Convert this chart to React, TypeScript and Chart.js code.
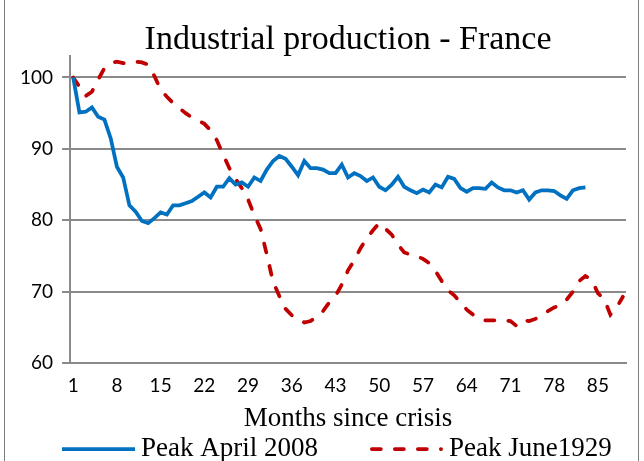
import React, { useEffect, useRef } from 'react';
import { Chart, registerables } from 'chart.js';

Chart.register(...registerables);

const months = [
  1, 2, 3, 4, 5, 6, 7, 8, 9, 10, 11, 12, 13, 14, 15, 16, 17, 18, 19, 20,
  21, 22, 23, 24, 25, 26, 27, 28, 29, 30, 31, 32, 33, 34, 35, 36, 37, 38, 39, 40,
  41, 42, 43, 44, 45, 46, 47, 48, 49, 50, 51, 52, 53, 54, 55, 56, 57, 58, 59, 60,
  61, 62, 63, 64, 65, 66, 67, 68, 69, 70, 71, 72, 73, 74, 75, 76, 77, 78, 79, 80,
  81, 82, 83, 84, 85, 86, 87, 88, 89,
];

const xTickLabels = ['1', '8', '15', '22', '29', '36', '43', '50', '57', '64', '71', '78', '85'];
const yTickValues = [60, 70, 80, 90, 100];

const peak2008 = [
  100, 95.1, 95.2, 95.8, 94.5, 94.1, 91.5, 87.5, 86.0, 82.1,
  81.2, 79.9, 79.6, 80.3, 81.1, 80.8, 82.1, 82.1, 82.4, 82.7,
  83.3, 83.9, 83.2, 84.7, 84.7, 85.9, 85.0, 85.3, 84.7, 86.0,
  85.5, 87.1, 88.3, 89.0, 88.6, 87.5, 86.3, 88.3, 87.3, 87.3,
  87.1, 86.6, 86.6, 87.8, 86.0, 86.6, 86.2, 85.5, 86.0, 84.7,
  84.2, 85.0, 86.1, 84.7, 84.2, 83.8, 84.3, 83.9, 85.0, 84.6,
  86.1, 85.8, 84.5, 84.0, 84.5, 84.5, 84.4, 85.3, 84.6, 84.2,
  84.2, 83.9, 84.2, 82.9, 83.9, 84.2, 84.2, 84.1, 83.5, 83.0,
  84.2, 84.5, 84.6,
];

const peak1929 = [
  100, 98.7, 97.4, 98.0, 99.7, 101.3, 102.0, 102.2, 102.0, 102.0,
  102.2, 102.1, 101.8, 100.2, 98.3, 97.3, 96.4, 95.7, 95.0, 94.4,
  94.0, 93.5, 92.6, 91.2, 89.2, 87.3, 85.8, 84.5, 82.9, 80.7,
  78.8, 75.2, 71.4, 69.4, 67.6, 66.7, 66.1, 65.7, 65.9, 66.5,
  67.3, 68.5, 69.4, 71.0, 73.0, 74.4, 76.1, 77.5, 78.6, 79.6,
  78.8, 78.0, 76.6, 75.5, 75.2, 75.0, 74.6, 74.0, 72.9, 71.5,
  70.2, 69.5, 68.5, 67.5, 66.8, 66.2, 66.0, 66.0, 66.0, 66.0,
  65.9, 65.2, 66.0, 65.9, 66.2, 66.7, 67.3, 67.8, 68.1, 68.9,
  70.0, 71.5, 72.2, 71.7, 69.8, 69.0, 66.8, 67.8, 69.3,
];

const seriesNames = ['Peak April 2008', 'Peak June1929'];
const titleText = 'Industrial production - France';
const xAxisTitle = 'Months since crisis';

const SERIF = '"Liberation Serif", "Times New Roman", serif';
const SANS = 'Lato, "Noto Sans", sans-serif';
const GRID = '#8a8a8a';

const framePlugin = {
  id: 'frame',
  beforeDraw(chart: any) {
    const ctx = chart.ctx;
    ctx.save();
    ctx.fillStyle = '#ffffff';
    ctx.fillRect(0, 0, chart.width, chart.height);
    ctx.strokeStyle = '#7f7f7f';
    ctx.lineWidth = 1;
    ctx.beginPath();
    ctx.moveTo(4.5, 0);
    ctx.lineTo(4.5, chart.height);
    ctx.moveTo(638.5, 0);
    ctx.lineTo(638.5, chart.height);
    ctx.stroke();
    ctx.restore();
  },
};

const legendPlugin = {
  id: 'lineLegend',
  afterDraw(chart: any) {
    const ctx = chart.ctx;
    ctx.save();
    ctx.font = `27px ${SERIF}`;
    ctx.textBaseline = 'middle';
    ctx.textAlign = 'left';
    const y = 449;
    let x = 62;
    const sample = 73;
    chart.data.datasets.forEach((ds: any) => {
      const round = ds.borderCapStyle === 'round';
      const inset = round ? ds.borderWidth / 2 : 0;
      ctx.beginPath();
      ctx.setLineDash(ds.borderDash || []);
      ctx.lineCap = ds.borderCapStyle || 'butt';
      ctx.lineWidth = ds.borderWidth;
      ctx.strokeStyle = ds.borderColor;
      ctx.moveTo(x + inset, y);
      ctx.lineTo(x + sample - inset, y);
      ctx.stroke();
      ctx.setLineDash([]);
      ctx.fillStyle = '#000000';
      const tx = x + sample + 6;
      ctx.fillText(ds.label, tx, y);
      x = tx + ctx.measureText(ds.label).width + 52;
    });
    ctx.restore();
  },
};

export default function App() {
  const canvasRef = useRef<HTMLCanvasElement | null>(null);

  useEffect(() => {
    if (!canvasRef.current) return;
    const chart = new Chart(canvasRef.current, {
      type: 'line',
      data: {
        labels: months,
        datasets: [
          {
            label: seriesNames[0],
            data: peak2008,
            borderColor: '#0070C0',
            backgroundColor: '#0070C0',
            borderWidth: 3.75,
            pointRadius: 0,
            tension: 0,
            fill: false,
          },
          {
            label: seriesNames[1],
            data: peak1929,
            borderColor: '#C00000',
            backgroundColor: '#C00000',
            borderWidth: 3.75,
            borderDash: [9, 14],
            borderCapStyle: 'round',
            pointRadius: 0,
            tension: 0,
            fill: false,
          },
        ],
      },
      options: {
        animation: false,
        responsive: false,
        maintainAspectRatio: false,
        layout: { padding: { left: 11, right: 18, top: 0, bottom: 29 } },
        plugins: {
          legend: { display: false },
          tooltip: { enabled: false },
          title: {
            display: true,
            fullSize: false,
            text: titleText,
            color: '#000000',
            font: { family: SERIF, size: 34, weight: 'normal', lineHeight: 0.9 },
            padding: { top: 25, bottom: 0.4 },
          },
        },
        scales: {
          x: {
            type: 'category',
            offset: true,
            grid: { display: false, drawTicks: false, tickLength: 0 },
            border: { display: true, color: GRID, width: 2 },
            ticks: {
              autoSkip: false,
              maxRotation: 0,
              minRotation: 0,
              padding: 11,
              color: '#000000',
              font: { family: SANS, size: 19, lineHeight: 1.2 },
              callback: function (this: any, value: any) {
                const lab = String(this.getLabelForValue(value));
                return xTickLabels.includes(lab) ? lab : '';
              },
            },
            title: {
              display: true,
              text: xAxisTitle,
              color: '#000000',
              font: { family: SERIF, size: 27, lineHeight: 1 },
              padding: { top: -3, bottom: 0 },
            },
          },
          y: {
            type: 'linear',
            min: 60,
            max: 103,
            bounds: 'data',
            afterBuildTicks: (scale: any) => {
              scale.ticks = yTickValues.map((v) => ({ value: v }));
            },
            grid: { color: GRID, lineWidth: 2, drawTicks: true, tickLength: 8 },
            border: { display: true, color: GRID, width: 2 },
            ticks: {
              stepSize: 10,
              padding: 9,
              color: '#000000',
              font: { family: SANS, size: 19 },
            },
          },
        },
      },
      plugins: [framePlugin, legendPlugin],
    } as any);
    return () => chart.destroy();
  }, []);

  return (
    <div style={{ position: 'absolute', left: 0, top: 0, width: 644, height: 461, overflow: 'hidden', background: '#fff' }}>
      <canvas ref={canvasRef} width={644} height={461} style={{ display: 'block', width: 644, height: 461 }} />
    </div>
  );
}
